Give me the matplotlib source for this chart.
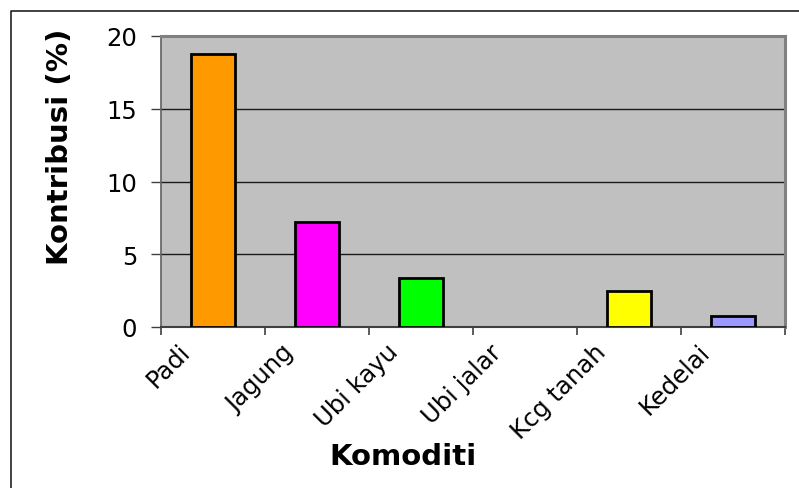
import matplotlib.pyplot as plt
import matplotlib.transforms as mtransforms
from matplotlib.lines import Line2D
import numpy as np

# data
komoditi = ['Padi', 'Jagung', 'Ubi kayu', 'Ubi jalar', 'Kcg tanah', 'Kedelai']
kontribusi = [18.75, 7.2, 3.35, 0.0, 2.47, 0.73]
warna = ['#FF9900', '#FF00FF', '#00FF00', '#00FFFF', '#FFFF00', '#9999FF']
y_ticks = [0, 5, 10, 15, 20]

fig = plt.figure(figsize=(7.99, 4.89), dpi=100)
fig.patch.set_facecolor('white')

ax = fig.add_axes([161 / 799, 1 - 328 / 489, 624 / 799, 291 / 489])
ax.set_facecolor('#C0C0C0')

x = np.arange(len(komoditi))
# bar bernilai nol tidak digambar garis tepinya
lebar_tepi = [2.0 if v > 0 else 0 for v in kontribusi]
ax.bar(x, kontribusi, width=0.42, color=warna, edgecolor='black',
       linewidth=lebar_tepi, zorder=3)

ax.set_xlim(-0.5, len(komoditi) - 0.5)
ax.set_ylim(0, 20)

# grid
ax.set_yticks(y_ticks)
ax.yaxis.grid(True, color='#1a1a1a', linewidth=1.0)
ax.set_axisbelow(True)
ax.tick_params(axis='y', length=7.2, width=1.0, color='#404040',
               labelsize=17.5, pad=10)

# category ticks between bars
ax.set_xticks(x)
ax.set_xticks(np.arange(-0.5, len(komoditi)), minor=True)
ax.tick_params(axis='x', which='major', length=0, pad=15)
ax.tick_params(axis='x', which='minor', length=5.5, width=1.2, color='#404040')
ax.set_xticklabels(komoditi, fontsize=17.5)
offset = mtransforms.ScaledTranslation(-27 / 100, 0, fig.dpi_scale_trans)
for lbl in ax.get_xticklabels():
    lbl.set_rotation(45)
    lbl.set_rotation_mode('anchor')
    lbl.set_ha('right')
    lbl.set_va('center')
    lbl.set_transform(lbl.get_transform() + offset)

# spines
for s in ['top', 'right']:
    ax.spines[s].set_color('#808080')
    ax.spines[s].set_linewidth(2.2)
ax.spines['left'].set_color('#606060')
ax.spines['left'].set_linewidth(1.2)
ax.spines['bottom'].set_color('#404040')
ax.spines['bottom'].set_linewidth(1.5)

# axis titles
fig.text(60 / 799, 1 - 147 / 489, 'Kontribusi (%)', rotation=90,
         ha='center', va='center', fontsize=21, fontweight='bold')
fig.text(403 / 799, 1 - 457 / 489, 'Komoditi', ha='center', va='center',
         fontsize=21, fontweight='bold')

# outer chart border (partially visible)
bx = 10.5 / 799
by = 1 - 12 / 489
fig.add_artist(Line2D([bx, bx, 1.0], [0.0, by, by], transform=fig.transFigure,
                      color='#222222', linewidth=1.2))

plt.savefig('out.png', dpi=100)
plt.close()
